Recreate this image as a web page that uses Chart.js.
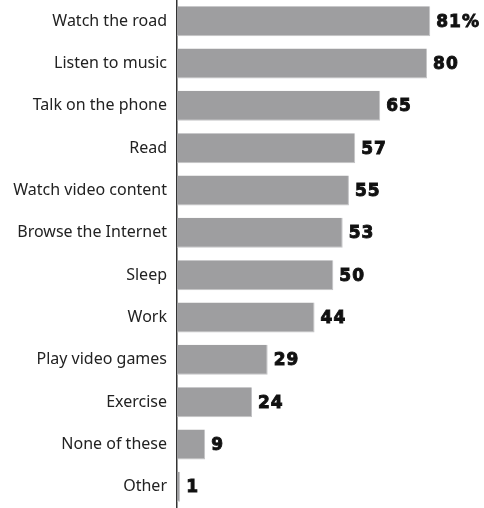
<!DOCTYPE html>
<html>
<head>
<meta charset="utf-8">
<script src="https://cdn.jsdelivr.net/npm/chart.js@4.4.1/dist/chart.umd.min.js"></script>
<style>
  body { margin: 0; background: #fff; }
  #wrap { width: 484px; height: 508px; position: relative; }
</style>
</head>
<body>
<div id="wrap"><canvas id="activityChart"></canvas></div>
<script>
// Dữ liệu biểu đồ
const categories = [
    "Watch the road", "Listen to music", "Talk on the phone", "Read",
    "Watch video content", "Browse the Internet", "Sleep", "Work",
    "Play video games", "Exercise", "None of these", "Other"
];
const values = [81, 80, 65, 57, 55, 53, 50, 44, 29, 24, 9, 1];
const valueLabels = ["81%", "80", "65", "57", "55", "53", "50", "44", "29", "24", "9", "1"];

// Plugin vẽ số ở cuối mỗi thanh
const valueLabelPlugin = {
    id: "valueLabels",
    afterDatasetsDraw(chart) {
        const ctx = chart.ctx;
        const meta = chart.getDatasetMeta(0);
        ctx.save();
        ctx.font = "bold 17px 'DejaVu Sans'";
        ctx.letterSpacing = "1px";
        ctx.fillStyle = "#111";
        ctx.strokeStyle = "#111";
        ctx.lineWidth = 0.9;
        ctx.textAlign = "left";
        ctx.textBaseline = "middle";
        meta.data.forEach((bar, i) => {
            ctx.fillText(valueLabels[i], bar.x + 6, bar.y + 1);
            ctx.strokeText(valueLabels[i], bar.x + 6, bar.y + 1); // cho chữ đậm hơn
        });
        ctx.restore();
    }
};

new Chart(document.getElementById("activityChart"), {
    type: "bar",
    data: {
        labels: categories,
        datasets: [{
            data: values,
            backgroundColor: "#9e9ea0",
            borderColor: "#c4c4c6",
            borderWidth: { top: 0, left: 0, right: 1, bottom: 1 },
            barPercentage: 0.71,
            categoryPercentage: 1
        }]
    },
    options: {
        indexAxis: "y",
        responsive: true,
        maintainAspectRatio: false,
        animation: false,
        layout: { padding: 0 },
        plugins: {
            legend: { display: false },
            tooltip: { enabled: false }
        },
        scales: {
            x: { display: false, min: 0, max: 98.2 },
            y: {
                grid: { display: false },
                border: { display: true, color: "#333", width: 1.5 },
                ticks: {
                    color: "#222",
                    padding: 2,
                    font: { family: "'Noto Sans'", size: 16 }
                },
                afterFit(scale) {
                    scale.width = 177;
                    scale.paddingTop = 0;
                    scale.paddingBottom = 0;
                }
            }
        }
    },
    plugins: [valueLabelPlugin]
});
</script>
</body>
</html>
